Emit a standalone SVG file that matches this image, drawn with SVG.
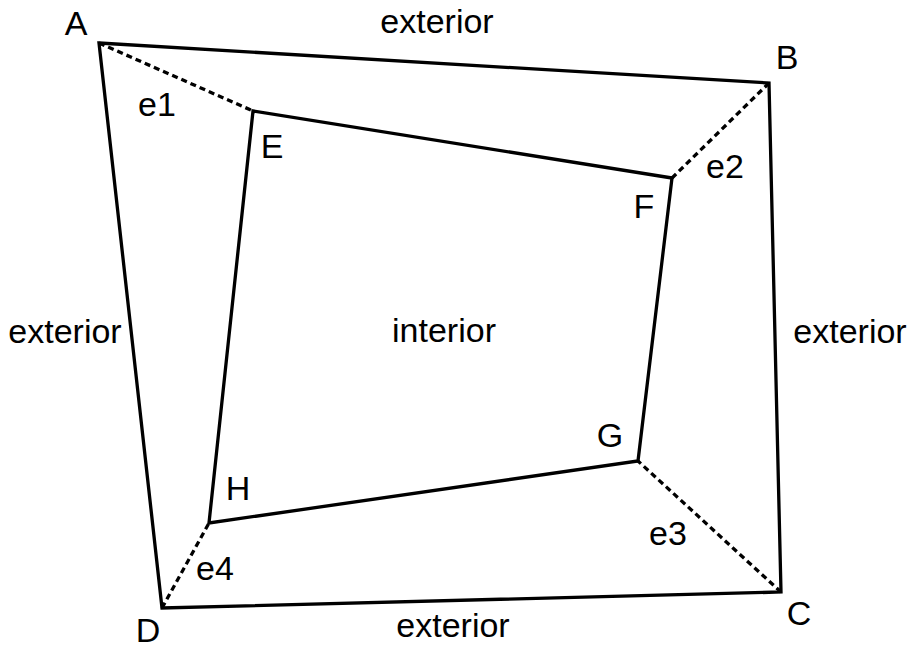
<svg xmlns="http://www.w3.org/2000/svg" width="907" height="648" viewBox="0 0 907 648">
<style>
.s{fill:none;stroke:#000;stroke-width:3.3;stroke-linejoin:miter;stroke-linecap:butt}
.d{fill:none;stroke:#000;stroke-width:3.3;stroke-dasharray:6 4}
text{font-family:"Liberation Sans",Arial,sans-serif;font-size:34px;fill:#000;text-anchor:middle}
</style>
<rect width="907" height="648" fill="#fff"/>
<g id="connectors">
<polygon class="s" points="99,43 769,83 781,592 162,608"/>
<polygon class="s" points="253,111 672,178 638,461 209,523"/>
<line class="d" x1="99" y1="43" x2="253" y2="111"/>
<line class="d" x1="769" y1="83" x2="672" y2="178"/>
<line class="d" x1="781" y1="592" x2="638" y2="461"/>
<line class="d" x1="162" y1="608" x2="209" y2="523"/>
</g>
<g id="A"><text x="76" y="35">A</text></g>
<g id="B"><text x="787" y="69">B</text></g>
<g id="C"><text x="799" y="625">C</text></g>
<g id="D"><text x="148" y="642">D</text></g>
<g id="E"><text x="272" y="158">E</text></g>
<g id="F"><text x="644" y="218">F</text></g>
<g id="G"><text x="610" y="447">G</text></g>
<g id="H"><text x="238" y="500">H</text></g>
<g id="e1"><text x="157" y="116">e1</text></g>
<g id="e2"><text x="725" y="178">e2</text></g>
<g id="e3"><text x="668" y="545">e3</text></g>
<g id="e4"><text x="215" y="580">e4</text></g>
<g id="labels">
<text x="437" y="33">exterior</text>
<text x="65" y="343">exterior</text>
<text x="444" y="342">interior</text>
<text x="850" y="343">exterior</text>
<text x="453" y="637">exterior</text>
</g>
</svg>
